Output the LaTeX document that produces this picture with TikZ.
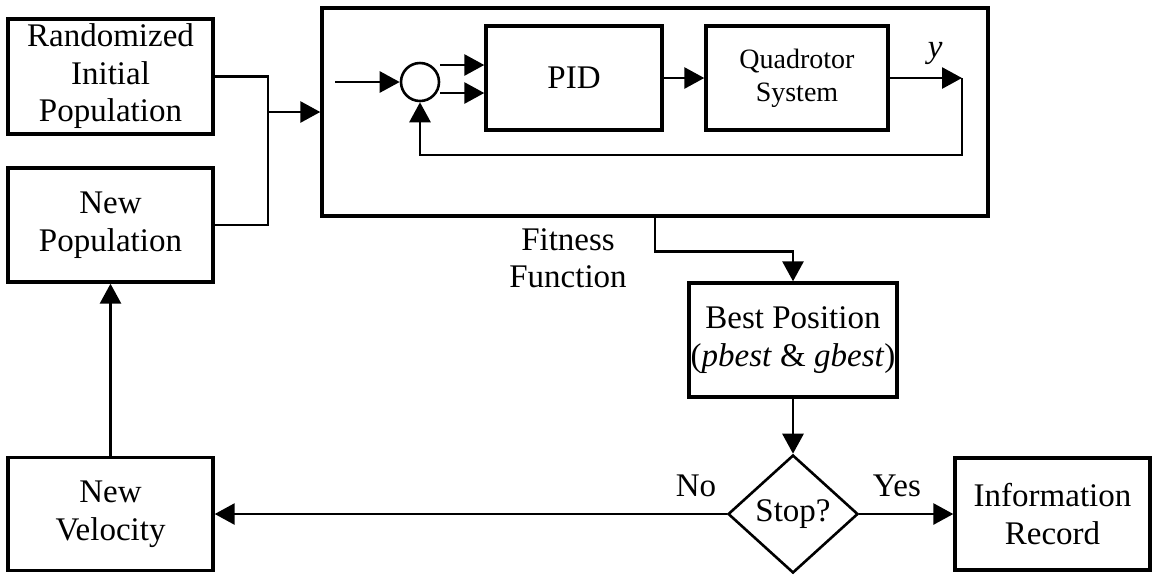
\documentclass[tikz,border=0pt]{standalone}
\usepackage{fontspec}
\setmainfont{Liberation Serif}
\usetikzlibrary{arrows.meta,shapes.geometric}

\begin{document}
\begin{tikzpicture}[x=0.5pt,y=-0.5pt,
  blk/.style={draw,line width=1.7pt,align=center,inner sep=0pt,
    font=\fontsize{16.5}{18.75}\selectfont},
  conn/.style={line width=1.4pt},
  arr/.style={conn,-{Triangle[length=10pt,width=10.5pt]}},
  lbl/.style={align=center,inner sep=0pt,font=\fontsize{16.5}{18.75}\selectfont}]
  \useasboundingbox (0,0) rectangle (1154,575);

  % Population boxes
  \node[blk,minimum width=102.5pt,minimum height=57.5pt] (rip) at (110.5,76.5) {Randomized\\Initial\\Population};
  \node[blk,minimum width=102.5pt,minimum height=57pt] (newpop) at (110.5,225) {New\\Population};
  \node[blk,minimum width=102.5pt,minimum height=56.5pt] (newvel) at (110.5,514) {New\\Velocity};

  % Fitness function block
  \node[blk,minimum width=333pt,minimum height=104pt] (fit) at (655,112) {};
  \node[draw,circle,line width=1.3pt,minimum size=19pt,inner sep=0pt] (sum) at (420,82) {};
  \node[blk,minimum width=88pt,minimum height=52pt] (pid) at (574,78) {PID};
  \node[blk,minimum width=91pt,minimum height=52pt,font=\fontsize{14}{16.5}\selectfont] (quad) at (797,78) {Quadrotor\\System};
  \node[lbl] (fitlbl) at (568,258) {Fitness\\Function};

  \coordinate (in) at (335,82);
  \coordinate (s1) at (440,65);
  \coordinate (s2) at (440,93);
  \coordinate (yo) at (962,78);
  \coordinate (fb) at (962,155);
  \coordinate (jn) at (268,112);

  % Decision part
  \node[blk,minimum width=104pt,minimum height=57pt] (best) at (793,340) {Best Position\\(\textit{pbest} \& \textit{gbest})};
  \node[draw,diamond,line width=1.3pt,minimum width=65pt,minimum height=59pt,inner sep=0pt,
    font=\fontsize{16.5}{18.75}\selectfont] (stop) at (793,514) {Stop?};
  \node[blk,minimum width=97.5pt,minimum height=56pt] (info) at (1052.5,514) {Information\\Record};

  % Connectors
  \draw[conn] (rip.east) -| (jn);
  \draw[conn] (newpop.east) -| (jn);
  \draw[arr] (jn) -- (fit.west);
  \draw[arr] (in) -- (sum.west);
  \draw[arr] (s1) -- (s1 -| pid.west);
  \draw[arr] (s2) -- (s2 -| pid.west);
  \draw[arr] (pid.east) -- (quad.west);
  \draw[arr] (quad.east) -- (yo) node[lbl,pos=0.63,above=6pt] {\textit{y}};
  \draw[arr] (yo) -- (fb) -| (sum.south);
  \draw[arr] (fit.south) -- ++(0,34) -| (best.north);
  \draw[arr] (best.south) -- (stop.north);
  \draw[arr] (stop.east) -- (info.west) node[lbl,pos=0.4,above=8pt] {Yes};
  \draw[arr] (stop.west) -- (newvel.east) node[lbl,pos=0.06,above=8pt] {No};
  \draw[arr] (newvel.north) -- (newpop.south);
\end{tikzpicture}
\end{document}
